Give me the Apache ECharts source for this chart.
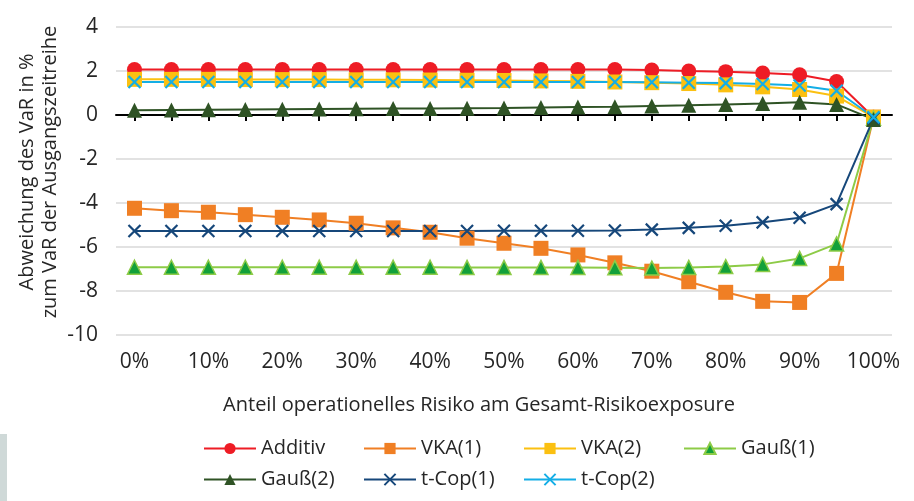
<!DOCTYPE html>
<html>
<head>
<meta charset="utf-8">
<script src="https://cdn.jsdelivr.net/npm/echarts@6/dist/echarts.min.js"></script>
<style>
  html, body { margin: 0; padding: 0; background: #fff; }
  #chart { width: 914px; height: 501px; }
</style>
</head>
<body>
<div id="chart"></div>
<script>
// Anteil operationelles Risiko (0% .. 100%, Schritt 5%)
var categories = ["0%", "5%", "10%", "15%", "20%", "25%", "30%", "35%", "40%", "45%", "50%",
  "55%", "60%", "65%", "70%", "75%", "80%", "85%", "90%", "95%", "100%"];

var additiv = [2.07, 2.07, 2.07, 2.07, 2.07, 2.07, 2.07, 2.07, 2.07, 2.07, 2.07,
  2.07, 2.07, 2.07, 2.04, 2.0, 1.97, 1.91, 1.83, 1.52, -0.1];
var vka1 = [-4.24, -4.35, -4.42, -4.53, -4.65, -4.77, -4.92, -5.13, -5.33, -5.6, -5.83,
  -6.06, -6.36, -6.72, -7.1, -7.58, -8.06, -8.47, -8.52, -7.2, -0.1];
var vka2 = [1.62, 1.62, 1.62, 1.61, 1.61, 1.61, 1.6, 1.6, 1.59, 1.58, 1.57,
  1.55, 1.53, 1.5, 1.47, 1.43, 1.37, 1.28, 1.16, 0.86, -0.1];
var gauss1 = [-6.92, -6.92, -6.92, -6.92, -6.92, -6.92, -6.92, -6.92, -6.92, -6.93, -6.93,
  -6.93, -6.93, -6.94, -6.96, -6.93, -6.89, -6.79, -6.52, -5.86, -0.15];
var gauss2 = [0.22, 0.23, 0.24, 0.25, 0.26, 0.27, 0.28, 0.29, 0.3, 0.31, 0.32,
  0.34, 0.36, 0.38, 0.41, 0.44, 0.48, 0.52, 0.58, 0.48, -0.2];
var tcop1 = [-5.27, -5.27, -5.27, -5.27, -5.27, -5.27, -5.27, -5.27, -5.27, -5.27, -5.26,
  -5.26, -5.26, -5.25, -5.21, -5.13, -5.03, -4.88, -4.67, -4.05, -0.15];
var tcop2 = [1.5, 1.5, 1.5, 1.5, 1.5, 1.5, 1.5, 1.5, 1.5, 1.5, 1.5,
  1.5, 1.5, 1.5, 1.49, 1.47, 1.45, 1.41, 1.34, 1.1, -0.1];

var crossPath = "path://M0,0L10,10M10,0L0,10";

function lineSeries(name, data, color, symbol, size, fill) {
  var cross = symbol === crossPath;
  return {
    name: name,
    type: "line",
    data: data,
    symbol: symbol,
    symbolSize: size,
    showAllSymbol: true,
    lineStyle: { color: color, width: 2 },
    itemStyle: cross
      ? { color: color, borderColor: color, borderWidth: 2.2 }
      : { color: fill || color, borderColor: color, borderWidth: fill ? 1.5 : 0 },
    emphasis: { disabled: true },
    z: 3
  };
}

var myChart = echarts.init(document.getElementById("chart"));
var option = {
  backgroundColor: "#fff",
  animation: false,
  textStyle: { fontFamily: "Open Sans", color: "#262626" },
  grid: { left: 116, right: 22, top: 27, bottom: 166 },
  graphic: [
    {
      type: "rect",
      shape: { x: 0, y: 434, width: 7, height: 67 },
      style: { fill: "#CFD9D8" }
    },
    {
      type: "text",
      x: 39,
      y: 172,
      rotation: Math.PI / 2,
      style: {
        text: "Abweichung des VaR in %\nzum VaR der Ausgangszeitreihe",
        font: "20px 'Open Sans'",
        fill: "#262626",
        align: "center",
        verticalAlign: "middle",
        lineHeight: 23
      }
    },
    {
      type: "text",
      x: 479,
      y: 405,
      style: {
        text: "Anteil operationelles Risiko am Gesamt-Risikoexposure",
        font: "20px 'Open Sans'",
        fill: "#262626",
        align: "center",
        verticalAlign: "middle"
      }
    }
  ],
  legend: {
    left: 203,
    top: 435,
    width: 700,
    padding: 0,
    itemWidth: 52,
    itemHeight: 14,
    itemGap: 4,
    textStyle: { fontSize: 20, color: "#262626", width: 98, lineHeight: 27 },
    data: ["Additiv", "VKA(1)", "VKA(2)", "Gauß(1)", "Gauß(2)", "t-Cop(1)", "t-Cop(2)"]
  },
  xAxis: [
    {
      type: "category",
      data: categories,
      position: "bottom",
      axisLine: { show: false, onZero: false },
      axisTick: { show: false },
      axisLabel: { interval: 1, fontSize: 21, color: "#262626", margin: 17 },
      splitLine: { show: false }
    },
    {
      type: "category",
      data: categories,
      position: "bottom",
      axisLine: { show: true, onZero: true, lineStyle: { color: "#000", width: 2 } },
      axisTick: { show: true, alignWithLabel: true, interval: 0, length: 6, lineStyle: { color: "#000", width: 2 } },
      axisLabel: { show: false },
      splitLine: { show: false }
    }
  ],
  yAxis: {
    type: "value",
    min: -10,
    max: 4,
    interval: 2,
    axisLine: { show: false },
    axisTick: { show: false },
    axisLabel: { fontSize: 21, color: "#262626", margin: 18 },
    splitLine: { lineStyle: { color: "#D9D9D9", width: 1.5 } }
  },
  series: [
    lineSeries("Additiv", additiv, "#EE1C25", "circle", 15),
    lineSeries("VKA(1)", vka1, "#F07F24", "rect", 15),
    lineSeries("VKA(2)", vka2, "#FBC011", "rect", 15),
    lineSeries("Gauß(1)", gauss1, "#8DCB47", "triangle", 14, "#12A03A"),
    lineSeries("Gauß(2)", gauss2, "#2F5325", "triangle", 15),
    lineSeries("t-Cop(1)", tcop1, "#16477A", crossPath, 12),
    lineSeries("t-Cop(2)", tcop2, "#14AEE6", crossPath, 12)
  ]
};
myChart.setOption(option, true);
window.addEventListener("resize", () => {
  myChart.resize();
});
</script>
</body>
</html>
